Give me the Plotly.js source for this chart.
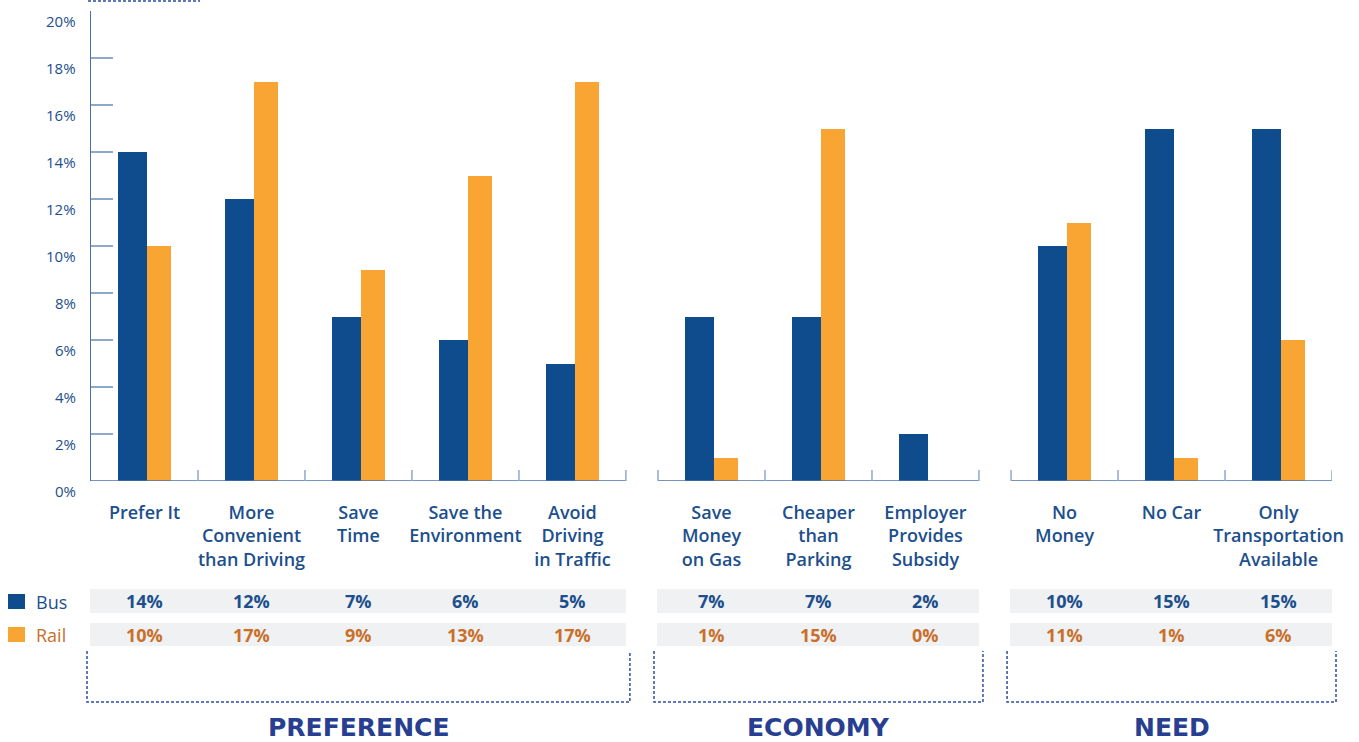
<!DOCTYPE html>
<html>
<head>
<meta charset="utf-8">
<script src="https://cdn.plot.ly/plotly-3.0.1.min.js"></script>
<style>html,body{margin:0;padding:0;background:#fff;}#chart{width:1359px;height:742px;}</style>
</head>
<body>
<div id="chart"></div>
<script>
// ---- data ----
const categories = ['Prefer It', 'More<br>Convenient<br>than Driving', 'Save<br>Time', 'Save the<br>Environment', 'Avoid<br>Driving<br>in Traffic',
                    'Save<br>Money<br>on Gas', 'Cheaper<br>than<br>Parking', 'Employer<br>Provides<br>Subsidy',
                    'No<br>Money', 'No Car', 'Only<br>Transportation<br>Available'];
const busValues  = [14, 12, 7, 6, 5, 7, 7, 2, 10, 15, 15];
const railValues = [10, 17, 9, 13, 17, 1, 15, 0, 11, 1, 6];
const groupNames = ['PREFERENCE', 'ECONOMY', 'NEED'];
const groupSizes = [5, 3, 3];
const seriesNames = ['Bus', 'Rail'];
const yTicks = [0, 2, 4, 6, 8, 10, 12, 14, 16, 18, 20];

// ---- styling ----
const BLUE = '#0f4c8d', ORANGE = '#f9a533';
const TXT_BLUE = '#1c4f8c', TXT_ORANGE = '#c8702b', GROUP_BLUE = '#283f91';
const AXIS_COL = '#4a70a8', TICK_COL = '#8ea8cb';
const FONT = 'Open Sans, sans-serif';
const GAP = 0.3;
const W = 1359, H = 742, ML = 91, MR = 27, MT = 11, MB = 261;
const plotW = W - ML - MR, plotH = H - MT - MB;

// group layout computed from sizes
const groupStart = [], groupEnd = [], xCenters = [];
let pos = 0;
groupSizes.forEach((n, g) => {
  groupStart.push(pos);
  for (let i = 0; i < n; i++) xCenters.push(pos + i + 0.5);
  pos += n;
  groupEnd.push(pos);
  pos += GAP;
});
const XMAX = groupEnd[groupEnd.length - 1];
const px2paperY = p => (H - MB - p) / plotH;   // pixel row -> paper y
const dx2paperX = d => d / XMAX;                // data x -> paper x

const traces = [
  { type: 'bar', name: seriesNames[0], x: xCenters, y: busValues, marker: { color: BLUE },
    width: 0.27, offset: -0.248, hoverinfo: 'x+y', showlegend: false },
  { type: 'bar', name: seriesNames[1], x: xCenters, y: railValues, marker: { color: ORANGE },
    width: 0.226, offset: 0.022, hoverinfo: 'x+y', showlegend: false }
];

const shapes = [];
const annotations = [];

// y tick labels (sit just below each tick)
yTicks.forEach(v => annotations.push({
  xref: 'paper', x: 0, xanchor: 'right', xshift: -13, yref: 'y', y: v, yanchor: 'middle', yshift: -10,
  text: v + '%', showarrow: false, font: { family: FONT, size: 15, color: TXT_BLUE, weight: 500 }
}));

// x axis segments per group with boundary ticks
const tickH = 11 / plotH * 20;
groupSizes.forEach((n, g) => {
  shapes.push({ type: 'line', xref: 'x', yref: 'y', x0: groupStart[g], x1: groupEnd[g], y0: 0, y1: 0,
    line: { color: AXIS_COL, width: 1.5 } });
  for (let i = 0; i <= n; i++) {
    const xb = groupStart[g] + i;
    if (xb === 0) continue;
    shapes.push({ type: 'line', xref: 'x', yref: 'y', x0: xb, x1: xb, y0: 0, y1: tickH,
      line: { color: TICK_COL, width: 1.5 } });
  }
  // table row backgrounds
  [[589, 613], [623, 646]].forEach(r => shapes.push({
    type: 'rect', xref: 'paper', yref: 'paper', layer: 'below',
    x0: dx2paperX(groupStart[g]) - 1 / plotW, x1: dx2paperX(groupEnd[g]),
    y0: px2paperY(r[0]), y1: px2paperY(r[1]), fillcolor: '#f0f1f3', line: { width: 0 }
  }));
  // open dashed bracket
  const bx0 = dx2paperX(groupStart[g]) - 4 / plotW, bx1 = dx2paperX(groupEnd[g]) + 4 / plotW;
  const bt = px2paperY(651), bb = px2paperY(702);
  shapes.push({ type: 'path', xref: 'paper', yref: 'paper',
    path: `M ${bx0},${bt} L ${bx0},${bb} L ${bx1},${bb} L ${bx1},${bt}`,
    line: { color: '#2f4ea3', width: 1.5, dash: '3px,2px' } });
  annotations.push({ xref: 'x', x: (groupStart[g] + groupEnd[g]) / 2, yref: 'paper', y: px2paperY(727),
    xanchor: 'center', yanchor: 'middle', text: '<b>' + groupNames[g] + '</b>', showarrow: false,
    font: { family: 'DejaVu Sans, sans-serif', size: 25, color: GROUP_BLUE } });
});

// top dotted fragment
shapes.push({ type: 'line', xref: 'paper', yref: 'paper', x0: -3 / plotW, x1: 109 / plotW,
  y0: px2paperY(1), y1: px2paperY(1), line: { color: '#2f4ea3', width: 1.5, dash: '3px,2px' } });

// table values
xCenters.forEach((xc, i) => {
  annotations.push({ xref: 'x', x: xc, yref: 'paper', y: px2paperY(601), xanchor: 'center', yanchor: 'middle',
    text: '<b>' + busValues[i] + '%</b>', showarrow: false, font: { family: FONT, size: 18, color: TXT_BLUE } });
  annotations.push({ xref: 'x', x: xc, yref: 'paper', y: px2paperY(634.5), xanchor: 'center', yanchor: 'middle',
    text: '<b>' + railValues[i] + '%</b>', showarrow: false, font: { family: FONT, size: 18, color: TXT_ORANGE } });
});

// legend (custom)
[[594, 609, BLUE, seriesNames[0], TXT_BLUE, 601.5], [627, 642, ORANGE, seriesNames[1], TXT_ORANGE, 634.5]].forEach(l => {
  shapes.push({ type: 'rect', xref: 'paper', yref: 'paper', x0: (8 - ML) / plotW, x1: (25 - ML) / plotW,
    y0: px2paperY(l[0]), y1: px2paperY(l[1]), fillcolor: l[2], line: { width: 0 } });
  annotations.push({ xref: 'paper', x: (34 - ML) / plotW, yref: 'paper', y: px2paperY(l[5]), xanchor: 'left', yanchor: 'middle',
    text: l[3], showarrow: false, font: { family: FONT, size: 18, color: l[4], weight: 500 } });
});

const layout = {
  width: W, height: H,
  margin: { l: ML, r: MR, t: MT, b: MB, pad: 0 },
  paper_bgcolor: '#fff', plot_bgcolor: '#fff',
  showlegend: false,
  bargap: 0,
  xaxis: {
    range: [0, XMAX], tickmode: 'array', tickvals: xCenters, ticktext: categories,
    showline: false, showgrid: false, zeroline: false, ticks: '', fixedrange: true,
    tickfont: { family: FONT, size: 18, color: TXT_BLUE, weight: 600 }, ticklabelstandoff: 19
  },
  yaxis: {
    range: [0, 20], tickmode: 'array', tickvals: yTicks, showticklabels: false,
    ticks: 'inside', ticklen: 22, tickwidth: 1.5, tickcolor: TICK_COL,
    showline: true, linecolor: AXIS_COL, linewidth: 1.5, showgrid: false, zeroline: false, fixedrange: true
  },
  shapes: shapes,
  annotations: annotations
};

Plotly.newPlot('chart', traces, layout, { displayModeBar: false, staticPlot: true });
</script>
</body>
</html>
